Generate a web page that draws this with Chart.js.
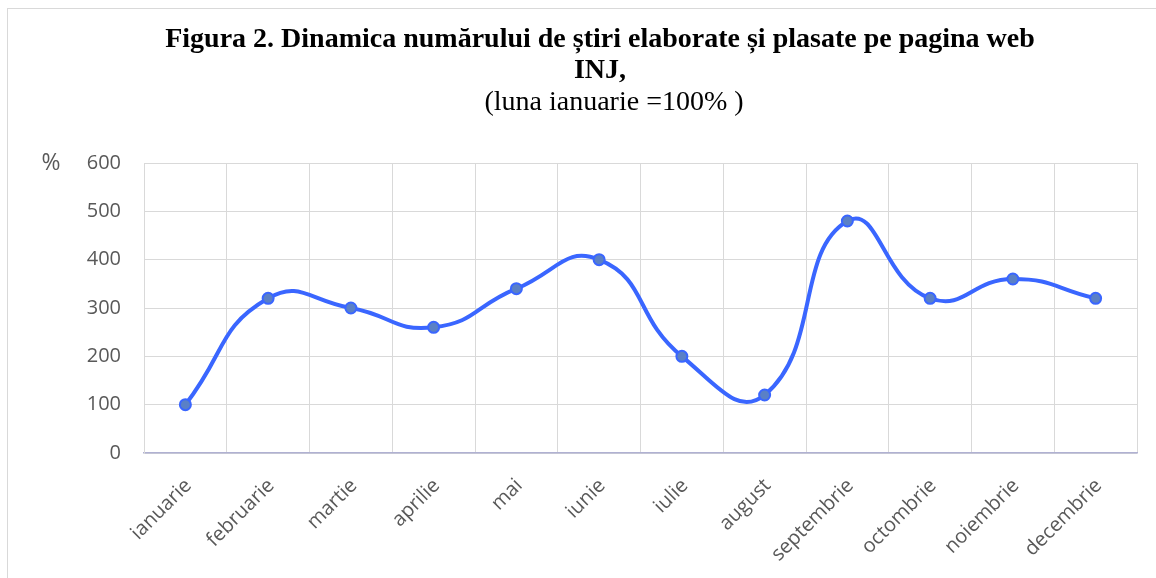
<!DOCTYPE html>
<html>
<head>
<meta charset="utf-8">
<script src="https://cdn.jsdelivr.net/npm/chart.js@4"></script>
<style>
    body { margin: 0; background: #ffffff; }
    #wrap { position: relative; width: 1156px; height: 578px; overflow: hidden; }
    #frame { position: absolute; left: 7px; top: 8px; width: 1200px; height: 600px; border: 1px solid #d9d9d9; box-sizing: border-box; }
    canvas { position: absolute; left: 0; top: 0; }
</style>
</head>
<body>
<div id="wrap">
    <div id="frame"></div>
    <canvas id="chart-inj" width="1156" height="578"></canvas>
</div>
<script>
// Data -------------------------------------
const months = ['ianuarie', 'februarie', 'martie', 'aprilie', 'mai', 'iunie',
    'iulie', 'august', 'septembrie', 'octombrie', 'noiembrie', 'decembrie']
const percent_values = [100, 320, 300, 260, 340, 400, 200, 120, 480, 320, 360, 320]
const y_ticks = [0, 100, 200, 300, 400, 500, 600]

const title_lines = ['Figura 2. Dinamica numărului de știri elaborate și plasate pe pagina web', 'INJ,']
const subtitle_text = '    (luna ianuarie =100% )'
const unit_label = '%'

// Colors -------------------------------------
const color_line = '#3a66ff'
const color_point = '#5a80c6'
const color_grid = '#d9d9d9'
const color_axis = '#b0b1d2'
const color_text = '#595959'

const tick_font = { family: 'Open Sans', size: 20 }

// Plugin to draw the "%" unit left of the top tick
const unitPlugin = {
    id: 'unitLabel',
    afterDraw(chart) {
        const ctx = chart.ctx
        const y = chart.scales.y.getPixelForValue(y_ticks[y_ticks.length - 1])
        ctx.save()
        ctx.font = '23px "Open Sans"'
        ctx.fillStyle = color_text
        ctx.textAlign = 'center'
        ctx.textBaseline = 'middle'
        ctx.fillText(unit_label, 51, y)
        ctx.restore()
    }
}

const config = {
    type: 'line',
    data: {
        labels: months,
        datasets: [{
            data: percent_values,
            borderColor: color_line,
            borderWidth: 4,
            tension: 0.5,
            pointRadius: 5.5,
            pointBackgroundColor: color_point,
            pointBorderColor: color_line,
            pointBorderWidth: 2,
        }]
    },
    options: {
        responsive: false,
        animation: false,
        // left padding pushes the title centre to the right, as in the original
        layout: { padding: { left: 63, right: 19, top: 0, bottom: 0 } },
        plugins: {
            legend: { display: false },
            tooltip: { enabled: false },
            title: {
                display: true,
                text: title_lines,
                color: '#000000',
                font: { family: 'Liberation Serif', size: 28, weight: 'bold', lineHeight: 1.1 },
                padding: { top: 24.6, bottom: 1.4 },
            },
            subtitle: {
                display: true,
                text: subtitle_text,
                color: '#000000',
                font: { family: 'Liberation Serif', size: 28, weight: 'normal', lineHeight: 1.1 },
                padding: { top: 0, bottom: 44.6 },
            },
        },
        scales: {
            x: {
                offset: true,
                grid: { color: color_grid, offset: true, drawTicks: false },
                border: { color: color_axis, width: 1.5 },
                ticks: { color: color_text, font: tick_font, minRotation: 45, maxRotation: 45, padding: 21, labelOffset: 3 },
                afterFit(scale) { scale.height = 125 },
            },
            y: {
                min: 0,
                max: 600,
                afterBuildTicks(scale) { scale.ticks = y_ticks.map(v => ({ value: v })) },
                grid: { color: color_grid, drawTicks: false },
                border: { color: color_grid },
                ticks: { color: color_text, font: tick_font, padding: 23 },
                afterFit(scale) { scale.width = 81 },
            },
        },
    },
    plugins: [unitPlugin],
}

const chart = new Chart(document.getElementById('chart-inj').getContext('2d'), config)
</script>
</body>
</html>
